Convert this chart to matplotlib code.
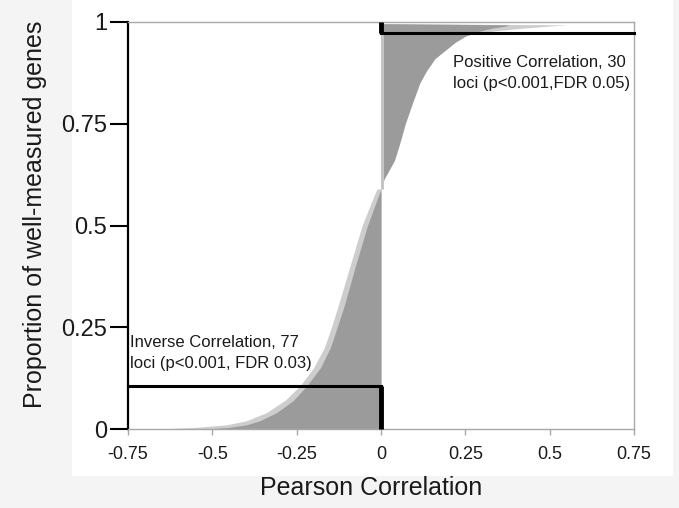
import matplotlib
matplotlib.use("Agg")
import matplotlib.pyplot as plt
from matplotlib.patches import Rectangle

plt.rcParams['font.family'] = ['Liberation Sans', 'DejaVu Sans']

# ---- data ----
neg_y = [0.0, 0.004, 0.01, 0.02, 0.04, 0.07, 0.106, 0.15, 0.2, 0.25, 0.3, 0.35, 0.4, 0.45, 0.5, 0.55, 0.59]
neg_dark_x = [-0.52, -0.45, -0.40, -0.36, -0.31, -0.26, -0.22, -0.18, -0.15, -0.13, -0.11, -0.093, -0.076, -0.058, -0.04, -0.018, 0.0]
neg_light_x = [-0.66, -0.55, -0.46, -0.40, -0.34, -0.285, -0.24, -0.20, -0.168, -0.147, -0.128, -0.11, -0.092, -0.074, -0.056, -0.032, -0.012]

pos_y = [0.59, 0.6, 0.63, 0.66, 0.7, 0.75, 0.8, 0.85, 0.88, 0.91, 0.93, 0.95, 0.965, 0.975, 0.985, 0.99, 0.993, 0.996]
pos_dark_x = [0.0, 0.0, 0.02, 0.04, 0.055, 0.072, 0.093, 0.115, 0.135, 0.16, 0.19, 0.22, 0.25, 0.28, 0.33, 0.37, 0.38, 0.0]
pos_light_x = [0.0, 0.004, 0.015, 0.03, 0.045, 0.06, 0.08, 0.10, 0.12, 0.145, 0.17, 0.20, 0.24, 0.30, 0.42, 0.50, 0.55, 0.0]

inverse_cut = 0.106
positive_cut = 0.973

x_ticks = [-0.75, -0.5, -0.25, 0, 0.25, 0.5, 0.75]
x_tick_labels = ["-0.75", "-0.5", "-0.25", "0", "0.25", "0.5", "0.75"]
y_ticks = [0, 0.25, 0.5, 0.75, 1]
y_tick_labels = ["0", "0.25", "0.5", "0.75", "1"]

pos_text = "Positive Correlation, 30\nloci (p<0.001,FDR 0.05)"
inv_text = "Inverse Correlation, 77\nloci (p<0.001, FDR 0.03)"

# ---- figure ----
W, H = 679, 508
fig = plt.figure(figsize=(W / 100, H / 100), dpi=100, facecolor='#f3f4f3')
fig.patches.append(Rectangle((72 / W, 1 - 476 / H), (673 - 72) / W, 476 / H,
                             transform=fig.transFigure, facecolor='white',
                             edgecolor='none', zorder=-5))

ax = fig.add_axes([128 / W, 1 - 429 / H, (634 - 128) / W, (429 - 22) / H])
ax.set_zorder(2)
ax.set_facecolor('white')
ax.set_xlim(-0.75, 0.75)
ax.set_ylim(0, 1)

light = '#cdcdcd'
dark = '#9b9b9b'

ax.fill_betweenx(neg_y, neg_light_x, 0, color=light, lw=0, zorder=1)
ax.fill_betweenx(pos_y, pos_light_x, 0, color=light, lw=0, zorder=1)
ax.fill_betweenx(neg_y, neg_dark_x, 0, color=dark, lw=0, zorder=2)
ax.fill_betweenx(pos_y, pos_dark_x, 0, color=dark, lw=0, zorder=2)
ax.plot([0.004, 0.004], [pos_y[0], positive_cut], color='#c4c4c4', lw=2.2, zorder=2.5,
        solid_capstyle='butt')

# boxes
ax.plot([-0.75, 0], [inverse_cut, inverse_cut], color='black', lw=2.2, zorder=4, clip_on=False)
ax.plot([0, 0], [0, inverse_cut], color='black', lw=3.5, zorder=4, clip_on=False,
        solid_capstyle='butt')
ax.plot([0, 0.75], [positive_cut, positive_cut], color='black', lw=2.2, zorder=4, clip_on=False)
ax.plot([0, 0], [positive_cut, 1], color='black', lw=3.5, zorder=4, clip_on=False,
        solid_capstyle='butt')

# spines
for s in ['top', 'right', 'bottom']:
    ax.spines[s].set_color('#a8a8a8')
    ax.spines[s].set_linewidth(1.0)
ax.spines['left'].set_color('black')
ax.spines['left'].set_linewidth(1.6)

ax.set_xticks(x_ticks)
ax.set_xticklabels(x_tick_labels, fontsize=13, color='#1a1a1a')
ax.set_yticks(y_ticks)
ax.set_yticklabels(y_tick_labels, fontsize=17, color='#1a1a1a')
ax.tick_params(axis='x', direction='out', length=4, width=1, color='#a8a8a8', pad=8)
ax.tick_params(axis='y', direction='out', length=13, width=1.5, color='black', pad=2)

ax.text(0.2145, 0.92, pos_text, fontsize=12, va='top', ha='left', color='#1a1a1a',
        linespacing=1.5, zorder=5)
ax.text(-0.744, 0.232, inv_text, fontsize=12, va='top', ha='left', color='#1a1a1a',
        linespacing=1.5, zorder=5)

fig.text(371 / W, 1 - 488 / H, "Pearson Correlation", fontsize=18, ha='center', va='center',
         color='#1a1a1a')
fig.text(35 / W, 1 - 214 / H, "Proportion of well-measured genes", fontsize=18, ha='center',
         va='center', rotation=90, color='#1a1a1a')

fig.savefig('out.png', dpi=100, facecolor=fig.get_facecolor())
